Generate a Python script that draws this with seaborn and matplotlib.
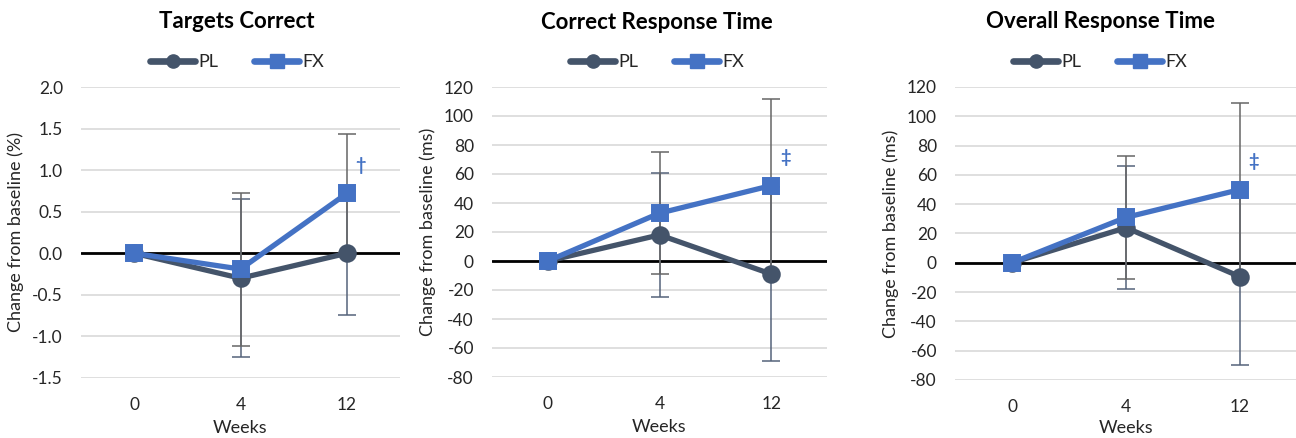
import numpy as np
import pandas as pd
import matplotlib
matplotlib.use("Agg")
import matplotlib.pyplot as plt
import seaborn as sns
from matplotlib.lines import Line2D

# ---------------- data ----------------
weeks = ["0", "4", "12"]
groups = ["PL", "FX"]

titles = ["Targets Correct", "Correct Response Time", "Overall Response Time"]
ylabels = ["Change from baseline (%)", "Change from baseline (ms)", "Change from baseline (ms)"]

tc_pl = [0.0, -0.30, 0.0]
tc_fx = [0.0, -0.19, 0.72]
tc_pl_err = [0.0, 0.95, 0.745]
tc_fx_err = [0.0, 0.92, 0.72]

crt_pl = [0.0, 18.0, -9.0]
crt_fx = [0.0, 33.0, 52.0]
crt_pl_err = [0.0, 43.0, 60.0]
crt_fx_err = [0.0, 42.0, 60.0]

ort_pl = [0.0, 24.0, -9.5]
ort_fx = [0.0, 31.0, 50.0]
ort_pl_err = [0.0, 42.0, 60.5]
ort_fx_err = [0.0, 42.0, 59.0]

sig_marks = ["\u2020", "\u2021", "\u2021"]

tc_ticks = [-1.5, -1.0, -0.5, 0.0, 0.5, 1.0, 1.5, 2.0]
rt_ticks = [-80, -60, -40, -20, 0, 20, 40, 60, 80, 100, 120]

# ---------------- style ----------------
sns.set_theme(style="white")
plt.rcParams["font.family"] = ["Lato", "DejaVu Sans"]
plt.rcParams["axes.unicode_minus"] = False

PL_COLOR = "#44546A"
FX_COLOR = "#4472C4"
GRID = "#D9D9D9"
TXT = "#262626"

panels = [
    dict(pl=tc_pl, fx=tc_fx, ple=tc_pl_err, fxe=tc_fx_err, ticks=tc_ticks, fmt="{:.1f}"),
    dict(pl=crt_pl, fx=crt_fx, ple=crt_pl_err, fxe=crt_fx_err, ticks=rt_ticks, fmt="{:d}"),
    dict(pl=ort_pl, fx=ort_fx, ple=ort_pl_err, fxe=ort_fx_err, ticks=rt_ticks, fmt="{:d}"),
]

W, H = 1296, 438
fig = plt.figure(figsize=(W / 100, H / 100), dpi=100)

# axes rectangles in pixels: left, top, right, bottom
rects = [(81, 87, 400, 378), (492, 87, 827, 377), (955, 87, 1297, 380)]
# centre (in pixels) of title/legend for each panel
centers = [237, 657, 1100]
xlabel_pads = [5, 5, 3]

for i, p in enumerate(panels):
    l, t, r, b = rects[i]
    ax = fig.add_axes([l / W, 1 - b / H, (r - l) / W, (b - t) / H])

    df = pd.DataFrame({
        "Week": weeks * 2,
        "Change": list(p["pl"]) + list(p["fx"]),
        "Group": ["PL"] * len(weeks) + ["FX"] * len(weeks),
    })

    pos = np.arange(len(weeks))
    # error bars (under markers)
    for vals, errs, col in [(p["pl"], p["ple"], "#55637a"), (p["fx"], p["fxe"], "#666666")]:
        v = np.array(vals)
        e = np.array(errs)
        m = e > 0
        ax.errorbar(pos[m], v[m], yerr=e[m], fmt="none", ecolor=col,
                    elinewidth=1.1, capsize=6.5, capthick=1.1, zorder=1.5)

    sns.pointplot(data=df, x="Week", y="Change", hue="Group", order=weeks,
                  hue_order=groups, palette={"PL": PL_COLOR, "FX": FX_COLOR},
                  markers=["o", "s"], linestyles=["-", "-"], errorbar=None,
                  dodge=False, legend=False, ax=ax,
                  markersize=10.5, linewidth=3.8)

    ax.set_xlim(-0.5, len(weeks) - 0.5)
    ax.set_ylim(p["ticks"][0], p["ticks"][-1])
    ax.set_yticks(p["ticks"])
    ax.set_yticklabels([p["fmt"].format(v) for v in p["ticks"]])
    ax.grid(axis="y", color=GRID, linewidth=1.2, zorder=0)
    ax.grid(axis="x", visible=False)
    ax.set_axisbelow(True)
    ax.axhline(0, color="black", linewidth=2.0, zorder=1)
    for s in ax.spines.values():
        s.set_visible(False)
    ax.tick_params(axis="both", length=0, labelsize=12.5, labelcolor=TXT)
    ax.tick_params(axis="y", pad=13)
    ax.tick_params(axis="x", pad=14)
    ax.set_xlabel("Weeks", fontsize=13, color=TXT, labelpad=xlabel_pads[i])
    ax.set_ylabel(ylabels[i], fontsize=13, color=TXT, labelpad=6)

    cx = (centers[i] - l) / (r - l)
    ax.text(cx, 1 + (87 - 22) / (b - t), titles[i], transform=ax.transAxes,
            ha="center", va="center", fontsize=16, fontweight="bold", color="black")

    handles = [
        Line2D([], [], color=PL_COLOR, marker="o", markersize=9.5, linewidth=4.8),
        Line2D([], [], color=FX_COLOR, marker="s", markersize=9.5, linewidth=4.8),
    ]
    ax.legend(handles, groups, loc="center", bbox_to_anchor=(cx, 1 + (87 - 62) / (b - t)),
              ncol=2, frameon=False, fontsize=13, handlelength=2.5,
              handletextpad=0.15, columnspacing=2.0, labelcolor=TXT)

    ax.annotate(sig_marks[i], xy=(pos[-1], p["fx"][-1]), xytext=(10, 20),
                textcoords="offset points", ha="center", va="center",
                fontsize=13, fontweight="bold", color=FX_COLOR)

fig.savefig("out.png", dpi=100)
